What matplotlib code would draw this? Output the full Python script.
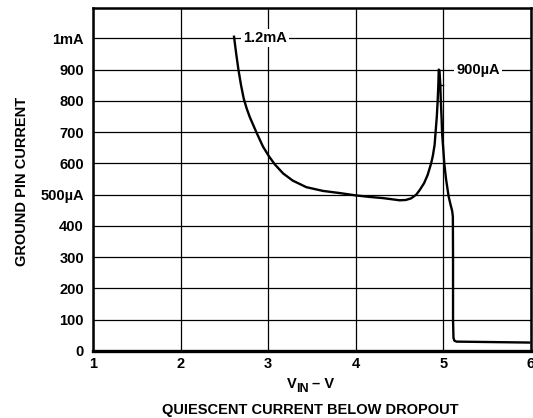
import matplotlib
matplotlib.use('Agg')
import matplotlib.pyplot as plt

plt.rcParams['font.family'] = ['Liberation Sans', 'DejaVu Sans']
plt.rcParams['font.weight'] = 'bold'

# ground pin current vs input voltage (uA)
vin = [2.61, 2.635, 2.66, 2.69, 2.72, 2.755, 2.79, 2.866, 2.94, 3.01, 3.075, 3.17, 3.28,
       3.435, 3.625, 3.82, 3.99, 4.15, 4.31, 4.42, 4.50, 4.57,
       4.63, 4.69, 4.73, 4.78, 4.82, 4.86, 4.88, 4.90, 4.91, 4.925, 4.935, 4.942,
       4.947, 4.955, 4.965, 4.97, 4.98, 4.985, 5.00, 5.01, 5.03, 5.06, 5.08, 5.10,
       5.108, 5.11, 5.11, 5.115, 5.125, 5.15, 5.98]
iq = [1005, 950, 900, 850, 808, 775, 748, 699, 654, 622, 597, 568, 545,
      524, 512, 505, 498, 493, 489, 485, 482, 483,
      488, 500, 515, 537, 563, 600, 625, 660, 697, 750, 803, 850,
      900, 898, 850, 803, 740, 697, 640, 600, 550, 494, 470, 448,
      430, 300, 100, 42, 33, 30, 27]

xticks = [1, 2, 3, 4, 5, 6]
yticks = [0, 100, 200, 300, 400, 500, 600, 700, 800, 900, 1000]
ylabels = ['0', '100', '200', '300', '400', '500µA', '600', '700', '800', '900', '1mA']

fs = 10.5
fig = plt.figure(figsize=(5.33, 4.18), dpi=100)
ax = fig.add_axes([93/533, 1 - 351/418, (531-93)/533, (351-8)/418])

ax.plot(vin, iq, color='black', lw=1.7, zorder=4)

# little leader mark next to the peak
ax.plot([4.97, 5.0], [850, 850], color='black', lw=1.0, zorder=4)

ax.set_xlim(1, 6)
ax.set_ylim(0, 1097)
ax.set_xticks(xticks)
ax.set_yticks(yticks)
ax.set_yticklabels(ylabels)
ax.tick_params(axis='x', length=0, labelsize=fs, pad=4)
ax.tick_params(axis='y', length=0, labelsize=fs, pad=6.5)
for lab in ax.get_xticklabels() + ax.get_yticklabels():
    lab.set_fontweight('bold')
ax.grid(True, color='black', lw=0.9)
ax.set_axisbelow(True)
for s in ax.spines.values():
    s.set_linewidth(1.8)
ax.spines['bottom'].set_linewidth(2.4)

ax.text(2.71, 1000, '1.2mA', fontsize=fs, fontweight='bold', va='center', ha='left',
        bbox=dict(facecolor='white', edgecolor='none', pad=1.5), zorder=5)
ax.text(5.15, 900, '900µA', fontsize=fs, fontweight='bold', va='center', ha='left',
        bbox=dict(facecolor='white', edgecolor='none', pad=1.5), zorder=3)

# x axis label V_IN – V, subscript drawn by hand
fig.text(286.5/533, 1 - 388.3/418, 'V', fontsize=fs, fontweight='bold',
         ha='left', va='baseline')
fig.text(296.5/533, 1 - 391.5/418, 'IN', fontsize=9, fontweight='bold',
         ha='left', va='baseline')
fig.text(312.5/533, 1 - 388.3/418, '– V', fontsize=fs, fontweight='bold',
         ha='left', va='baseline')

fig.text(22/533, 1 - 181/418, 'GROUND PIN CURRENT', fontsize=fs, fontweight='bold',
         ha='center', va='center', rotation=90)
fig.text(310/533, 1 - 410/418, 'QUIESCENT CURRENT BELOW DROPOUT', fontsize=fs,
         fontweight='bold', ha='center', va='center')

fig.savefig('out.png', dpi=100)
